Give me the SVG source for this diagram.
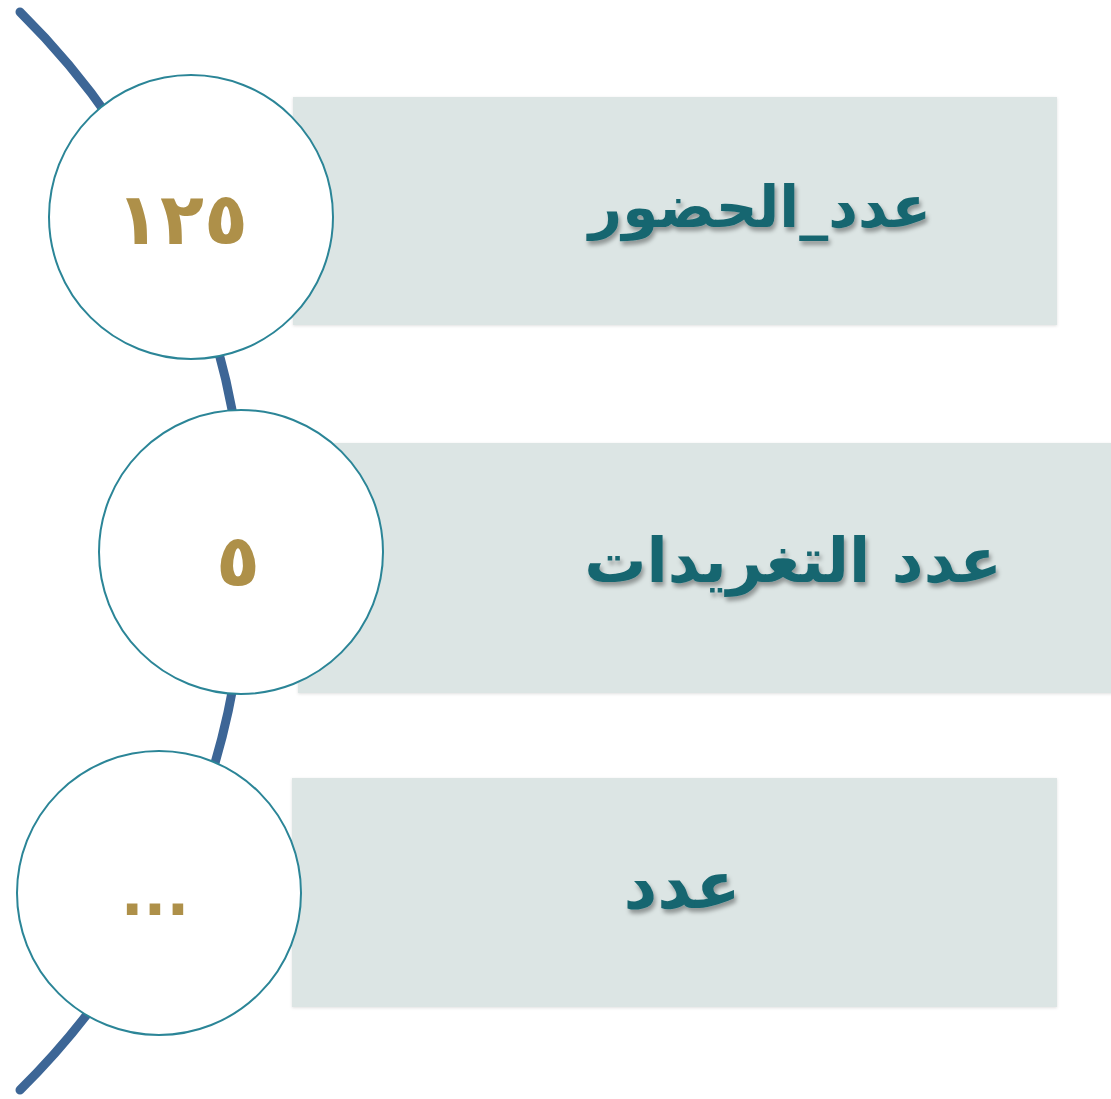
<svg xmlns="http://www.w3.org/2000/svg" width="1111" height="1099" viewBox="0 0 1111 1099">
<defs>
<style>
.box{fill:#DCE5E4}
.node circle{fill:#FFFFFF;stroke:#2B8597;stroke-width:2}
.lbl{font-family:"DejaVu Sans",sans-serif;font-weight:bold;fill:#19666F;text-anchor:middle}
.num{font-family:"DejaVu Sans",sans-serif;font-weight:bold;fill:#AE9049;text-anchor:middle}
.conn{fill:none;stroke:#3D6696;stroke-width:9;stroke-linecap:round}
</style>
<filter id="ts" x="-10%" y="-30%" width="120%" height="160%">
<feDropShadow dx="2" dy="4" stdDeviation="2" flood-color="#000" flood-opacity="0.35"/>
</filter>
<filter id="bs" x="-5%" y="-5%" width="110%" height="110%">
<feDropShadow dx="0" dy="1" stdDeviation="1.5" flood-color="#000" flood-opacity="0.12"/>
</filter>
</defs>
<rect width="1111" height="1099" fill="#FFFFFF"/>
<g id="connectors">
<path class="conn" d="M20,12 A757.7,757.7 0 0 1 20,1090"/>
</g>
<g id="box1"><rect class="box" filter="url(#bs)" x="293" y="97" width="764" height="228"/>
<text class="lbl" filter="url(#ts)" x="760" y="227" font-size="58">عدد_الحضور</text></g>
<g id="box2"><rect class="box" filter="url(#bs)" x="298" y="443" width="820" height="250"/>
<text class="lbl" filter="url(#ts)" x="793" y="582" font-size="62">عدد التغريدات</text></g>
<g id="box3"><rect class="box" filter="url(#bs)" x="292" y="778" width="765" height="229"/>
<text class="lbl" filter="url(#ts)" x="682" y="908" font-size="66">عدد</text></g>
<g id="node1" class="node"><circle cx="191" cy="217" r="142"/>
<text class="num" x="182" y="244" font-size="72">١٢٥</text></g>
<g id="node2" class="node"><circle cx="241" cy="552" r="142"/>
<text class="num" x="238" y="586" font-size="72">٥</text></g>
<g id="node3" class="node"><circle cx="159" cy="893" r="142"/>
<text class="num" x="155" y="915" font-size="60">...</text></g>
</svg>
